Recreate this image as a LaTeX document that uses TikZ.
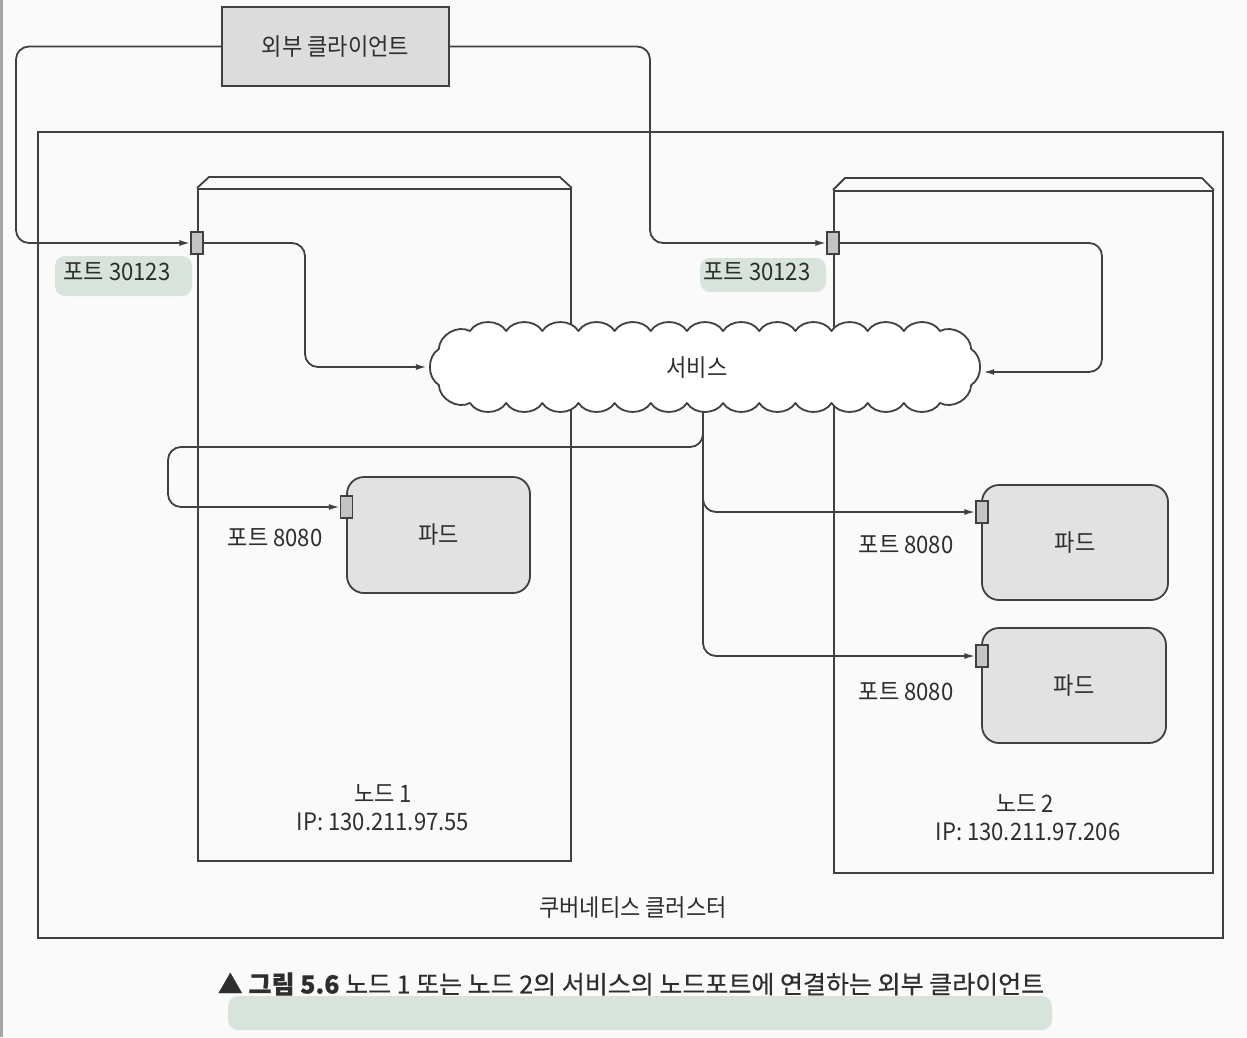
\documentclass[tikz,border=0pt]{standalone}
\usepackage{fontspec}
\setmainfont{Noto Sans CJK KR}[FakeStretch=0.92]
\newfontfamily\capfam{Noto Sans CJK KR}[FakeBold=0.4]
\usetikzlibrary{arrows.meta,calc}
\definecolor{lc}{HTML}{404040}
\definecolor{txtc}{HTML}{2E2E2E}
\definecolor{clientc}{HTML}{DCDCDC}
\definecolor{podc}{HTML}{E2E2E2}
\definecolor{portc}{HTML}{C4C4C4}
\definecolor{hlc}{HTML}{D3E0D6}
\definecolor{bgc}{HTML}{FAFAFA}
\newcommand\dfont{\fontsize{24}{28}\selectfont}
\newcommand\capfont{\capfam\fontsize{25}{29}\selectfont}
\begin{document}
\begin{tikzpicture}[x=1pt,y=-1pt,
  ln/.style={draw=lc, line width=1.8pt},
  conn/.style={ln, rounded corners=13pt, -{Latex[length=11pt,width=6pt]}},
  portbox/.style={draw=lc, line width=1.3pt, fill=portc, minimum width=12pt, minimum height=22pt, inner sep=0pt},
  podbox/.style={ln, fill=podc, rounded corners=17pt, inner sep=0pt, text=txtc, font=\dfont},
  nodebox/.style={ln, inner sep=0pt, anchor=north west},
  lbl/.style={inner sep=0pt, text=txtc, font=\dfont},
  hl/.style={fill=hlc, draw=none, rounded corners=10pt, opacity=0.85},
  puff/.style={bend left=58}
]
\useasboundingbox (0,0) rectangle (1247,1037);
\fill[bgc] (0,0) rectangle (1247,1037);
\fill[gray!70] (0,0) rectangle (3,1037);

% highlighter marks
\path[hl] (55,256) rectangle (192,296);
\path[hl] (700,258) rectangle (826,292);
\path[hl] (228,996) rectangle (1052,1030);

% cluster
\node[ln, minimum width=1185pt, minimum height=806pt, anchor=north west, inner sep=0pt] (cluster) at (37,131) {};
\node[lbl] (clusterlbl) at (633,908) {쿠버네티스 클러스터};

% external client
\node[ln, fill=clientc, minimum width=227pt, minimum height=79pt, inner sep=0pt, text=txtc, font=\dfont] (client) at (335.5,46.5) {외부 클라이언트};

% node 1
\node[nodebox, minimum width=373pt, minimum height=672pt] (n1) at (197,188) {};
\draw[ln] (n1.north west) -- ++(12,-11) -- ([xshift=-12pt,yshift=11pt]n1.north east) -- (n1.north east);
\node[lbl] (n1name) at (383,793) {노드 1};
\node[lbl] (n1ip) at (383,822) {IP: 130.211.97.55};

% node 2
\node[nodebox, minimum width=379pt, minimum height=682pt] (n2) at (833,190) {};
\draw[ln] (n2.north west) -- ++(12,-12) -- ([xshift=-12pt,yshift=12pt]n2.north east) -- (n2.north east);
\node[lbl] (n2name) at (1025,803) {노드 2};
\node[lbl] (n2ip) at (1028,832) {IP: 130.211.97.206};

% pods
\node[podbox, minimum width=183pt, minimum height=116pt] (pod1) at (438.5,535) {파드};
\node[podbox, minimum width=186pt, minimum height=115pt] (pod2) at (1075,542.5) {파드};
\node[podbox, minimum width=184pt, minimum height=115pt] (pod3) at (1074,685.5) {파드};

% ports
\node[portbox] (p1) at (197,243) {};
\node[portbox] (p2) at (833,243) {};
\node[portbox] (pp1) at (346.5,507) {};
\node[portbox] (pp2) at (982,512) {};
\node[portbox] (pp3) at (982,656) {};

\node[lbl] (p1lbl) at (117,272) {포트 30123};
\node[lbl] (p2lbl) at (757,272) {포트 30123};
\node[lbl] (pp1lbl) at (275,538) {포트 8080};
\node[lbl] (pp2lbl) at (906,545) {포트 8080};
\node[lbl] (pp3lbl) at (906,692) {포트 8080};

% service anchor node
\node[minimum width=556pt, minimum height=86pt, inner sep=0pt] (svc) at (705,367) {};
\coordinate (svcout) at (703,385);

% connectors
\draw[conn] (client.west) -| (16,243) -- (p1.west);
\draw[conn] (client.east) -| (650,243) -- (p2.west);
\draw[conn] (p1.east) -| (305,367) -- (svc.west);
\draw[conn] (p2.east) -| (1102,372) -- ([yshift=-5pt]svc.east);
\draw[conn] (svcout) -- (703,447) -- (168,447) -- (168,507) -- (pp1.west);
\draw[conn] (svcout) |- (pp2.west);
\draw[conn] (svcout) |- (pp3.west);

% cloud
\draw[ln, fill=white, line join=round] (470,331)
  \foreach \i in {1,...,13} { to[puff] ++(36.1538,0) }
  to[puff] (971.18,349) to[puff] (971.18,385) to[puff] (940,403)
  \foreach \i in {1,...,13} { to[puff] ++(-36.1538,0) }
  to[puff] (438.82,385) to[puff] (438.82,349) to[puff] (470,331) -- cycle;
\node[lbl] (svclbl) at (697,368) {서비스};

% caption
\node[inner sep=0pt, text=txtc, font=\capfont] (caption) at (631,984) {\textbf{▲ 그림 5.6} 노드 1 또는 노드 2의 서비스의 노드포트에 연결하는 외부 클라이언트};
\end{tikzpicture}
\end{document}
